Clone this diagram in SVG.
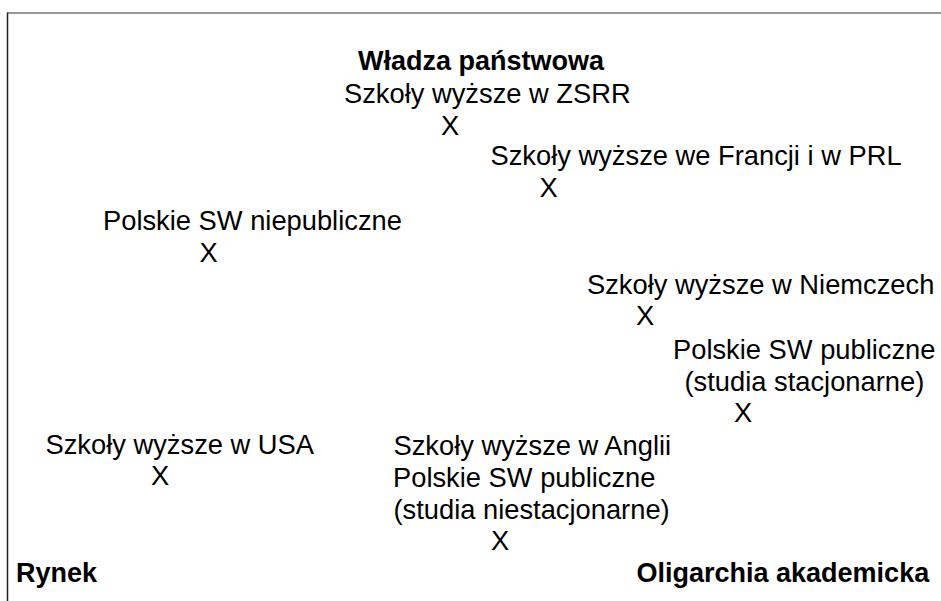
<svg xmlns="http://www.w3.org/2000/svg" width="941" height="601" viewBox="0 0 941 601">
<style>
text{font-family:"Liberation Sans",Arial,sans-serif;font-size:27.3px;fill:#000}
.b{font-weight:bold;font-size:27px}
</style>
<rect width="941" height="601" fill="#fff"/>
<g id="frame">
<line x1="7" y1="13" x2="941" y2="13" stroke="#777" stroke-width="1.5"/>
<line x1="7.5" y1="12.5" x2="7.5" y2="601" stroke="#222" stroke-width="1.5"/>
</g>
<g id="axis-top"><text class="b" x="358" y="70">Władza państwowa</text></g>
<g id="zsrr"><text x="344" y="103">Szkoły wyższe w ZSRR</text><text x="441" y="135">X</text></g>
<g id="francja"><text x="490.5" y="165">Szkoły wyższe we Francji i w PRL</text><text x="539.5" y="197">X</text></g>
<g id="niepubliczne"><text x="103" y="230">Polskie SW niepubliczne</text><text x="199.5" y="262">X</text></g>
<g id="niemcy"><text x="587" y="293.5">Szkoły wyższe w Niemczech</text><text x="636" y="325">X</text></g>
<g id="stacjonarne"><text x="673" y="358.5">Polskie SW publiczne</text><text x="684.5" y="391">(studia stacjonarne)</text><text x="734" y="422">X</text></g>
<g id="usa"><text x="45.5" y="454">Szkoły wyższe w USA</text><text x="151" y="485">X</text></g>
<g id="anglia"><text x="393.5" y="455">Szkoły wyższe w Anglii</text><text x="393" y="487">Polskie SW publiczne</text><text x="393.5" y="518.5">(studia niestacjonarne)</text><text x="491" y="550">X</text></g>
<g id="axis-left"><text class="b" x="16" y="582">Rynek</text></g>
<g id="axis-right"><text class="b" x="636.5" y="582">Oligarchia akademicka</text></g>
<g id="connectors"></g>
</svg>
